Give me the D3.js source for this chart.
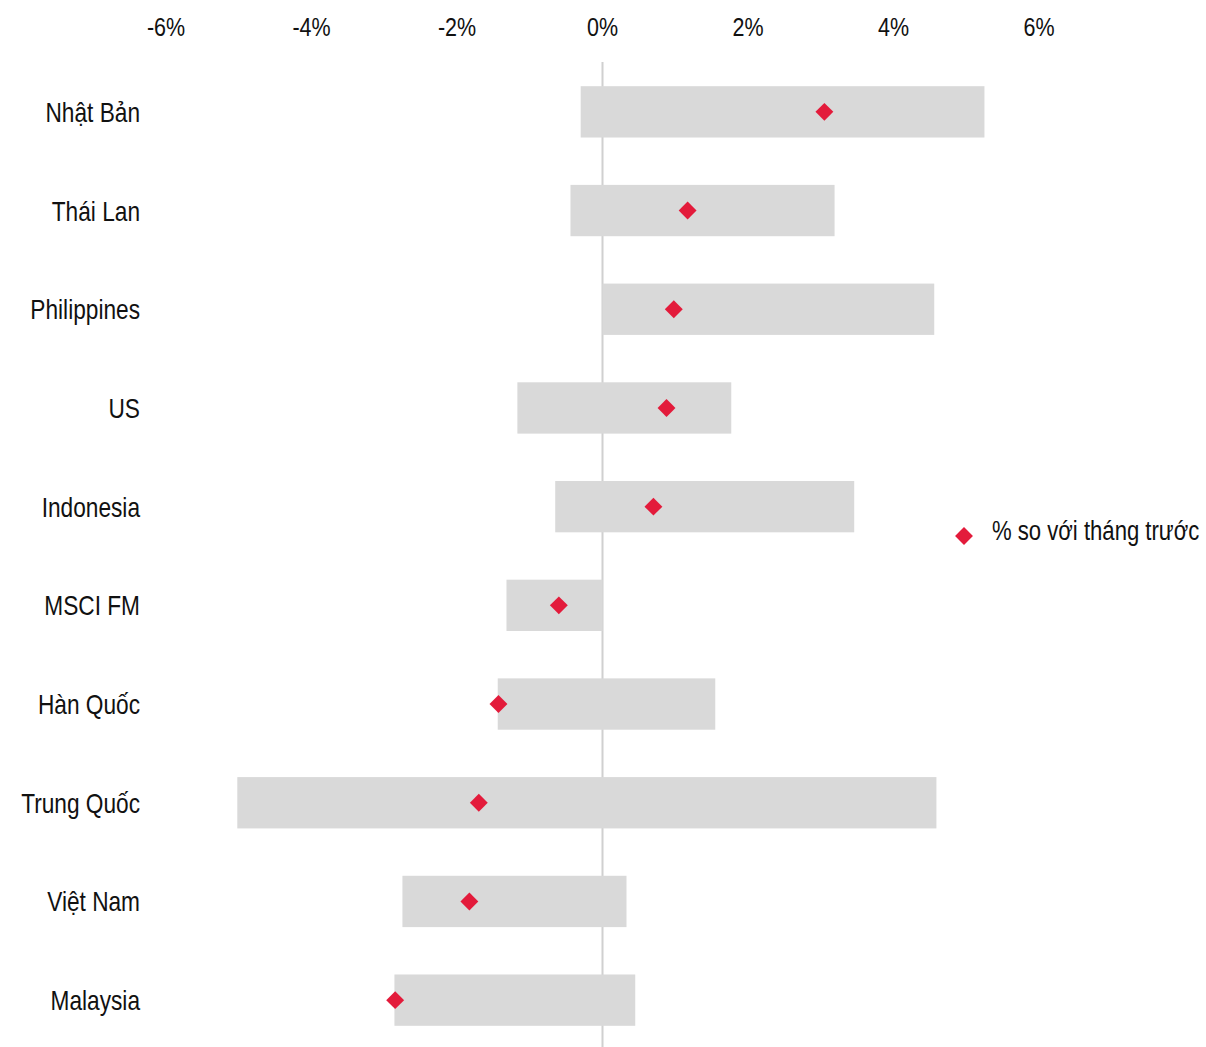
<!DOCTYPE html>
<html><head><meta charset="utf-8">
<script src="https://cdn.jsdelivr.net/npm/d3@7"></script>
<style>
html,body{margin:0;padding:0;background:#fff;}
svg text{font-family:"Liberation Sans",Arial,sans-serif;fill:#111;}
</style></head>
<body>
<svg id="chart" width="1206" height="1047"></svg>
<script>
const categories = ["Nhật Bản","Thái Lan","Philippines","US","Indonesia","MSCI FM","Hàn Quốc","Trung Quốc","Việt Nam","Malaysia"];
const rangeLow  = [-0.30,-0.44, 0.00,-1.17,-0.65,-1.32,-1.44,-5.02,-2.75,-2.86];
const rangeHigh = [ 5.25, 3.19, 4.56, 1.77, 3.46, 0.00, 1.55, 4.59, 0.33, 0.45];
const momChange = [ 3.05, 1.17, 0.98, 0.88, 0.70,-0.60,-1.43,-1.70,-1.83,-2.85];
const tickValues = [-6,-4,-2,0,2,4,6];
const legendLabel = "% so với tháng trước";

const svg = d3.select("#chart");
const x = d3.scaleLinear().domain([-6,6]).range([166,1039]);
const y = d3.scaleBand().domain(categories).range([62.5,1049.5]).paddingInner(0.48).paddingOuter(0.24);

// zero line
svg.append("line").attr("x1",x(0)).attr("x2",x(0)).attr("y1",62).attr("y2",1047)
  .attr("stroke","#d0d0d0").attr("stroke-width",2);

// bars
svg.append("g").selectAll("rect").data(categories).join("rect")
  .attr("x",(d,i)=>x(rangeLow[i]))
  .attr("width",(d,i)=>x(rangeHigh[i])-x(rangeLow[i]))
  .attr("y",d=>y(d)).attr("height",y.bandwidth())
  .attr("fill","#d9d9d9");

// diamonds
const sym = d3.symbol().type(d3.symbolSquare).size(160);
svg.append("g").selectAll("path").data(categories).join("path")
  .attr("d",sym)
  .attr("transform",(d,i)=>`translate(${x(momChange[i])},${y(d)+y.bandwidth()/2}) rotate(45)`)
  .attr("fill","#e31b3b");

// top axis
const axis = d3.axisTop(x).tickValues(tickValues).tickFormat(d=>d+"%").tickSize(0).tickPadding(0);
const ag = svg.append("g").attr("transform","translate(0,36)").call(axis);
ag.select(".domain").remove();
ag.selectAll(".tick").each(function(d){
  d3.select(this).attr("transform",`translate(${x(d)},0) scale(0.86,1)`);
});
ag.selectAll("text")
  .style("font-family","'Liberation Sans',Arial,sans-serif")
  .style("font-size","25px").attr("fill","#111");

// category labels
svg.append("g").selectAll("text").data(categories).join("text")
  .attr("transform",d=>`translate(140,${y(d)+y.bandwidth()/2+10}) scale(0.81,1)`)
  .attr("text-anchor","end").style("font-size","28px").text(d=>d);

// legend
const lg = svg.append("g").attr("transform","translate(964,536)");
lg.append("path").attr("d",sym).attr("transform","rotate(45)").attr("fill","#e31b3b");
lg.append("text").attr("transform","translate(28,4) scale(0.79,1)")
  .style("font-size","28px").text(legendLabel);
</script>
</body></html>
